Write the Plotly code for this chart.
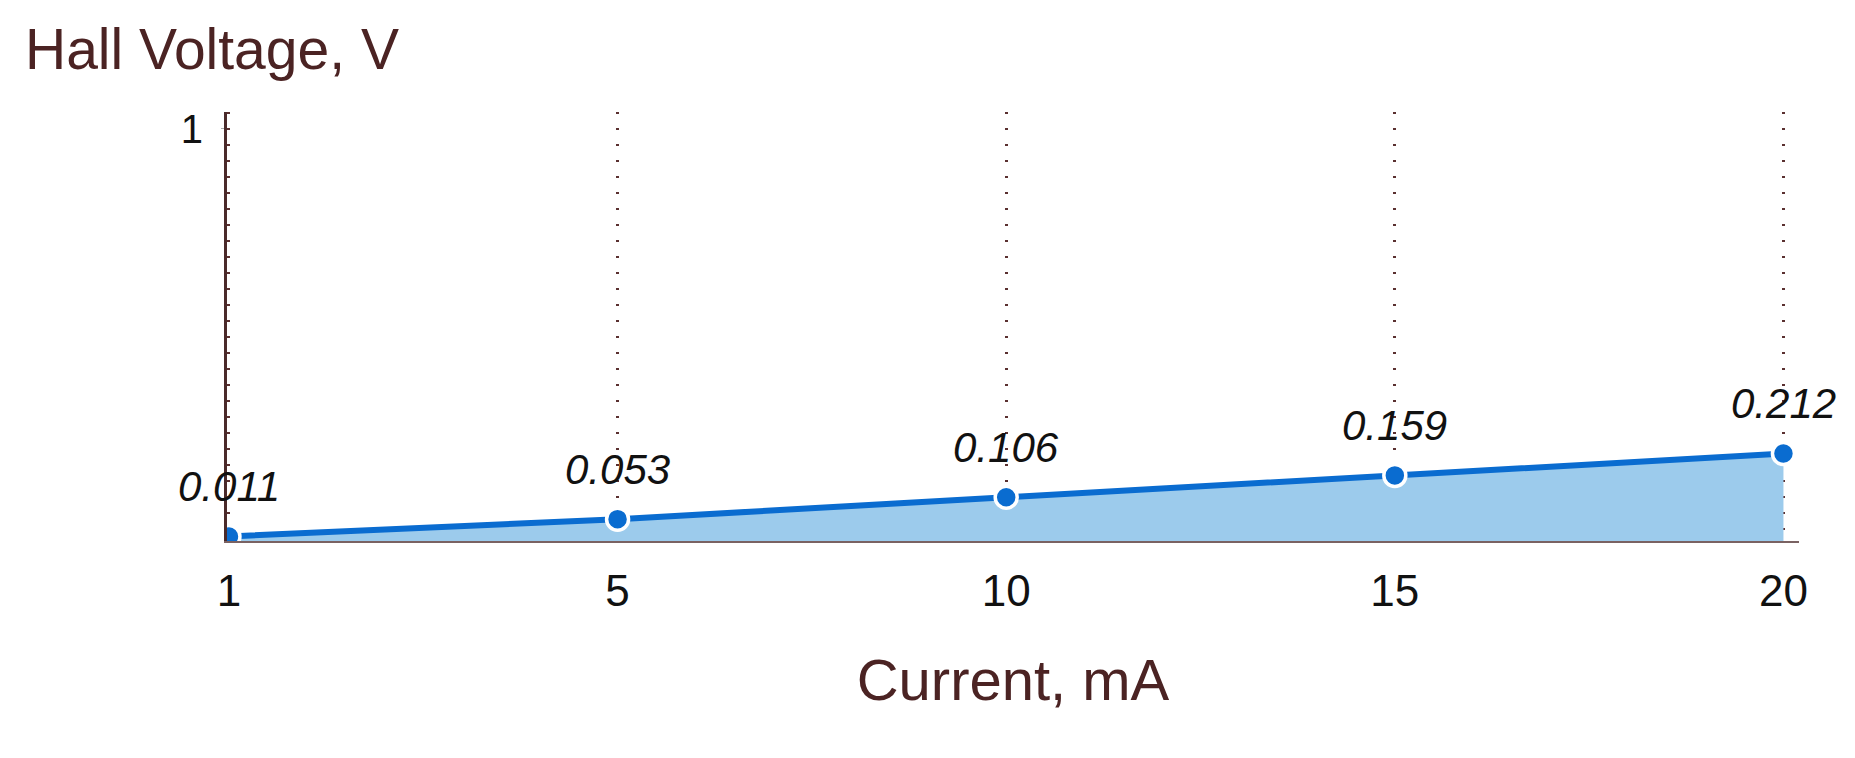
import plotly.graph_objects as go

current_labels = ["1", "5", "10", "15", "20"]
hall_voltage = [0.011, 0.053, 0.106, 0.159, 0.212]
value_labels = ["0.011", "0.053", "0.106", "0.159", "0.212"]

xs = list(range(len(current_labels)))

fig = go.Figure()
fig.add_trace(go.Scatter(
    x=xs, y=hall_voltage,
    mode="lines+markers",
    fill="tozeroy",
    fillcolor="#9ccbec",
    line=dict(color="#0a6cd0", width=6),
    marker=dict(size=22, color="#0a6cd0", line=dict(color="white", width=3.5)),
    hoverinfo="skip",
))

# value labels above each point
for x, y, t in zip(xs, hall_voltage, value_labels):
    fig.add_annotation(x=x, y=y, text=t, showarrow=False, yshift=50,
                       font=dict(size=42, color="#111111", family="Liberation Sans",
                                 style="italic"))

fig.add_annotation(xref="paper", yref="paper", x=-0.13, y=1.146,
                   xanchor="left", yanchor="middle", text="Hall Voltage, V",
                   showarrow=False,
                   font=dict(size=57, color="#4b2323", family="Liberation Sans"))

fig.update_layout(
    width=1855, height=758,
    margin=dict(l=219, r=64, t=104, b=225),
    plot_bgcolor="white", paper_bgcolor="white",
    showlegend=False,
    font=dict(family="Liberation Sans"),
)

fig.update_xaxes(
    range=[-0.005, 4.04],
    tickvals=xs, ticktext=current_labels,
    showgrid=True, gridcolor="#5a3030", griddash="2px,14px", gridwidth=2.5,
    showline=True, linecolor="#7a6262", linewidth=2,
    zeroline=False,
    tickfont=dict(size=44, color="#111111"),
    ticklabelstandoff=10,
    title=dict(text="Current, mA", font=dict(size=58, color="#4b2323"), standoff=46),
)

fig.update_yaxes(
    range=[0, 1.04],
    tickvals=[1], ticktext=["1"],
    showgrid=False, zeroline=False,
    showline=True, linecolor="#4a2a2a", linewidth=3,
    ticks="outside", ticklen=3, tickcolor="#aaaaaa",
    tickfont=dict(size=40, color="#111111"),
    ticklabelstandoff=10,
)

fig.write_html("out.html")
